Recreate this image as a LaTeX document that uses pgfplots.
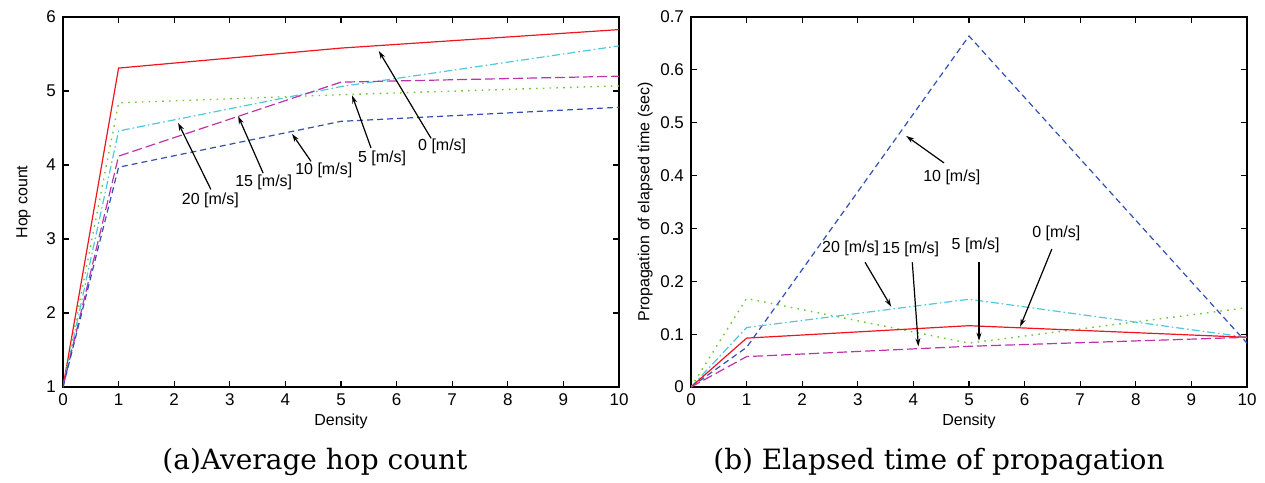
\documentclass[border=0pt]{standalone}
\usepackage{fontspec}
\setsansfont{Liberation Sans}
\newfontfamily\capfont{DejaVu Serif}
\usepackage{pgfplots}
\pgfplotsset{compat=1.18}
\usetikzlibrary{arrows.meta}
\definecolor{cRed}{RGB}{240,20,30}
\definecolor{cGreen}{RGB}{110,200,60}
\definecolor{cCyan}{RGB}{80,200,220}
\definecolor{cMag}{RGB}{190,50,170}
\definecolor{cBlue}{RGB}{50,80,180}
\tikzset{
  s0/.style={cRed, line width=0.6pt},
  s5/.style={cGreen, line width=0.7pt, dash pattern=on 0.8pt off 2.6pt},
  s10/.style={cBlue, line width=0.6pt, dash pattern=on 3pt off 2pt},
  s15/.style={cMag, line width=0.6pt, dash pattern=on 5pt off 2pt},
  s20/.style={cCyan, line width=0.6pt, dash pattern=on 4pt off 1.5pt on 0.8pt off 1.5pt},
  ann/.style={font=\sffamily\fontsize{8}{9}\selectfont},
  arr/.style={-{Stealth[length=4pt,width=2.5pt]}, black, line width=0.6pt},
}
\pgfplotsset{
  common/.style={
    scale only axis, width=278pt, height=185pt, anchor=south west,
    xmin=0, xmax=10, xtick={0,...,10},
    tick align=inside, major tick length=3pt,
    axis line style={line width=0.8pt},
    every tick/.style={black, line width=0.6pt},
    ticklabel style={font=\sffamily\fontsize{8.5}{9}\selectfont},
    /pgf/number format/assume math mode=true,
    label style={font=\sffamily\fontsize{8}{9}\selectfont},
    xlabel={Density},
    xlabel style={yshift=3pt},
    clip=true,
  },
}
\begin{document}
\begin{tikzpicture}
\path (0,0) rectangle (632.5pt,240.5pt);
\begin{axis}[common, at={(31.5pt,47pt)}, ymin=1, ymax=6, ytick={1,...,6},
  ylabel={Hop count}, ylabel style={yshift=1pt}]
\addplot[s0] coordinates {(0,1) (1,5.31) (5,5.58) (10,5.83)};
\addplot[s5] coordinates {(0,1) (1,4.84) (5,4.95) (10,5.07)};
\addplot[s20] coordinates {(0,1) (1,4.46) (5,5.06) (10,5.61)};
\addplot[s15] coordinates {(0,1) (1,4.12) (5,5.12) (10,5.2)};
\addplot[s10] coordinates {(0,1) (1,3.97) (5,4.59) (10,4.78)};
\draw[arr] (axis cs:6.62,4.36) -- (axis cs:5.68,5.54);
\node[ann] at (axis cs:6.82,4.25) {0 [m/s]};
\draw[arr] (axis cs:5.54,4.23) -- (axis cs:5.2,4.94);
\node[ann] at (axis cs:5.74,4.09) {5 [m/s]};
\draw[arr] (axis cs:4.46,4.05) -- (axis cs:4.12,4.42);
\node[ann] at (axis cs:4.69,3.93) {10 [m/s]};
\draw[arr] (axis cs:3.6,3.89) -- (axis cs:3.15,4.66);
\node[ann] at (axis cs:3.61,3.76) {15 [m/s]};
\draw[arr] (axis cs:2.66,3.67) -- (axis cs:2.07,4.57);
\node[ann] at (axis cs:2.65,3.52) {20 [m/s]};
\end{axis}
\begin{axis}[common, at={(345.5pt,47pt)}, ymin=0, ymax=0.7,
  ytick={0,0.1,...,0.7}, yticklabels={0,0.1,0.2,0.3,0.4,0.5,0.6,0.7},
  ylabel={Propagation of elapsed time (sec)}, ylabel style={yshift=-3pt}]
\addplot[s10] coordinates {(0,0) (1,0.075) (5,0.664) (10,0.083)};
\addplot[s5] coordinates {(0,0) (1,0.1675) (5,0.083) (10,0.15)};
\addplot[s20] coordinates {(0,0) (1,0.1125) (5,0.166) (10,0.094)};
\addplot[s0] coordinates {(0,0) (1,0.0925) (5,0.116) (10,0.094)};
\addplot[s15] coordinates {(0,0) (1,0.0575) (5,0.077) (10,0.094)};
\draw[arr] (axis cs:4.55,0.424) -- (axis cs:3.87,0.475);
\node[ann] at (axis cs:4.69,0.397) {10 [m/s]};
\draw[arr] (axis cs:3.13,0.236) -- (axis cs:3.6,0.152);
\node[ann] at (axis cs:2.87,0.2625) {20 [m/s]};
\draw[arr] (axis cs:3.98,0.236) -- (axis cs:4.09,0.077);
\node[ann] at (axis cs:3.95,0.261) {15 [m/s]};
\draw[arr] (axis cs:5.18,0.236) -- (axis cs:5.18,0.0875);
\node[ann] at (axis cs:5.12,0.2675) {5 [m/s]};
\draw[arr] (axis cs:6.49,0.261) -- (axis cs:5.92,0.114);
\node[ann] at (axis cs:6.57,0.29) {0 [m/s]};
\end{axis}
\node[font=\capfont\fontsize{14}{16}\selectfont] at (157.5pt,9.5pt) {(a)Average hop count};
\node[font=\capfont\fontsize{14}{16}\selectfont] at (469.5pt,9.5pt) {(b) Elapsed time of propagation};
\end{tikzpicture}
\end{document}
